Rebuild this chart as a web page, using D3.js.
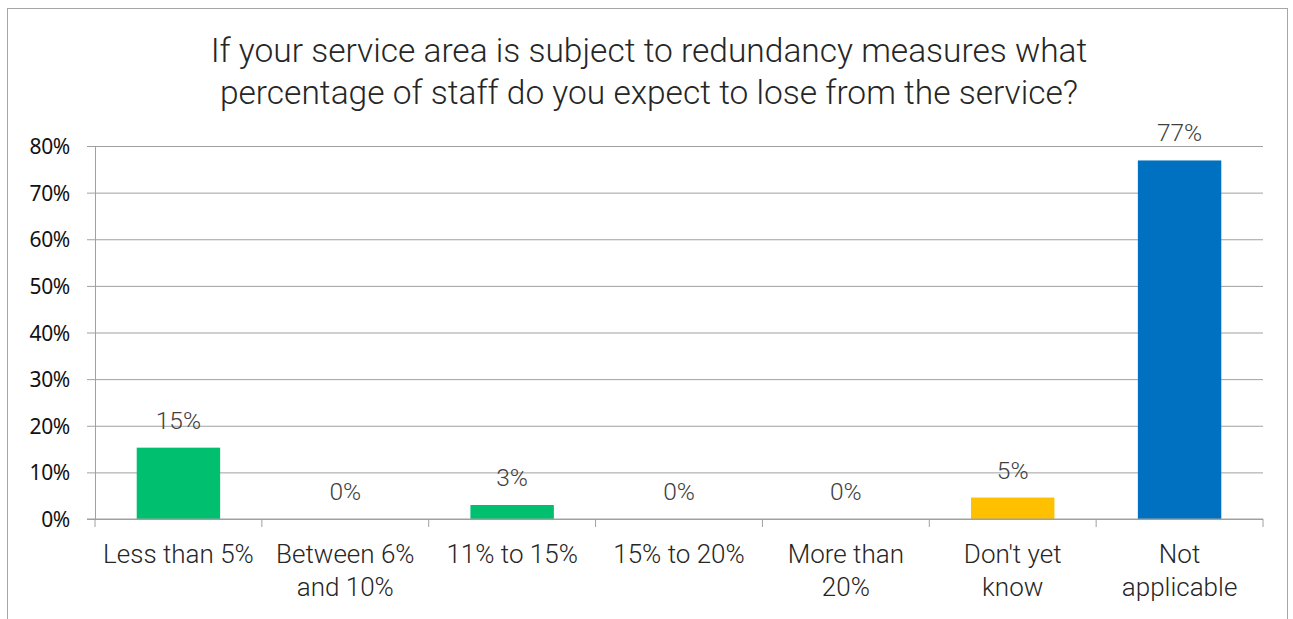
<!DOCTYPE html>
<html>
<head>
<meta charset="utf-8">
<script src="https://cdn.jsdelivr.net/npm/d3@7"></script>
<style>
  html, body { margin: 0; padding: 0; background: #fff; }
  svg { display: block; }
</style>
</head>
<body>
<svg id="chart" width="1293" height="619"></svg>
<script>
// Survey question and answers
const titleLines = [
  "If your service area is subject to redundancy measures what",
  "percentage of staff do you expect to lose from the service?"
];
const categories = [
  "Less than 5%",
  "Between 6%\nand 10%",
  "11% to 15%",
  "15% to 20%",
  "More than\n20%",
  "Don't yet\nknow",
  "Not\napplicable"
];
const shares = [0.153, 0, 0.030, 0, 0, 0.046, 0.769];
const barColors = ["#00BF6F", "#00BF6F", "#00BF6F", "#00BF6F", "#00BF6F", "#FFC000", "#0070C0"];
const yTicks = [0, 0.1, 0.2, 0.3, 0.4, 0.5, 0.6, 0.7, 0.8];

const svg = d3.select("#chart");
const lightFont = "Roboto, 'Open Sans', sans-serif";
const tickFont = "'Noto Sans', 'Open Sans', sans-serif";

// Outer frame
svg.append("rect")
  .attr("x", 7.5).attr("y", 8.5)
  .attr("width", 1280).attr("height", 640)
  .attr("fill", "#fff")
  .attr("stroke", "#A6A6A6").attr("stroke-width", 1);

const margin = { left: 95, right: 1263, top: 146, bottom: 519 };

const x = d3.scaleBand()
  .domain(categories)
  .range([margin.left, margin.right])
  .paddingInner(0.5)
  .paddingOuter(0.25);

const y = d3.scaleLinear()
  .domain([0, 0.8])
  .range([margin.bottom, margin.top]);

// Title
const title = svg.append("text")
  .attr("text-anchor", "middle")
  .attr("font-family", lightFont)
  .attr("font-weight", 300)
  .attr("font-size", 33.5)
  .attr("fill", "#262626");
title.selectAll("tspan")
  .data(titleLines)
  .join("tspan")
  .attr("x", 649)
  .attr("y", (d, i) => 62 + i * 42)
  .text(d => d);

// Horizontal gridlines with short outward ticks
const yAxis = d3.axisLeft(y)
  .tickValues(yTicks)
  .tickSize(-(margin.right - margin.left))
  .tickSizeOuter(0)
  .tickFormat(d3.format(".0%"));

const gy = svg.append("g")
  .attr("transform", `translate(${margin.left},0)`)
  .call(yAxis);
gy.select(".domain").attr("stroke", "#A0A0A0");
gy.selectAll(".tick line").attr("stroke", "#A0A0A0").attr("x1", -8);
gy.selectAll(".tick text")
  .attr("x", -25)
  .attr("dy", "0.36em")
  .attr("font-family", tickFont)
  .attr("font-size", 21)
  .attr("fill", "#111")
  .attr("letter-spacing", -0.3);

// Bars
svg.append("g")
  .selectAll("rect")
  .data(shares)
  .join("rect")
  .attr("x", (d, i) => x(categories[i]))
  .attr("width", x.bandwidth())
  .attr("y", d => y(d))
  .attr("height", d => y(0) - y(d))
  .attr("fill", (d, i) => barColors[i]);

// Value labels above bars
svg.append("g")
  .selectAll("text")
  .data(shares)
  .join("text")
  .attr("x", (d, i) => x(categories[i]) + x.bandwidth() / 2)
  .attr("y", d => y(d) - 19)
  .attr("text-anchor", "middle")
  .attr("font-family", lightFont)
  .attr("font-weight", 300)
  .attr("font-size", 24.5)
  .attr("fill", "#404040")
  .text(d => d3.format(".0%")(d));

// Category axis with tick marks at the band boundaries
const step = x.step();
const boundaries = d3.range(categories.length + 1).map(i => margin.left + i * step);
const gx = svg.append("g");
gx.append("line")
  .attr("x1", margin.left - 8).attr("x2", margin.right)
  .attr("y1", y(0)).attr("y2", y(0))
  .attr("stroke", "#A0A0A0");
gx.selectAll("line.tick")
  .data(boundaries)
  .join("line")
  .attr("class", "tick")
  .attr("x1", d => d).attr("x2", d => d)
  .attr("y1", y(0)).attr("y2", y(0) + 8)
  .attr("stroke", "#A0A0A0");

const catLabels = svg.append("g")
  .selectAll("text")
  .data(categories)
  .join("text")
  .attr("text-anchor", "middle")
  .attr("font-family", lightFont)
  .attr("font-weight", 300)
  .attr("font-size", 26)
  .attr("fill", "#262626");
catLabels.selectAll("tspan")
  .data(d => d.split("\n").map(line => ({ line, cat: d })))
  .join("tspan")
  .attr("x", d => x(d.cat) + x.bandwidth() / 2)
  .attr("y", (d, i) => 563 + i * 33)
  .text(d => d.line);
</script>
</body>
</html>
